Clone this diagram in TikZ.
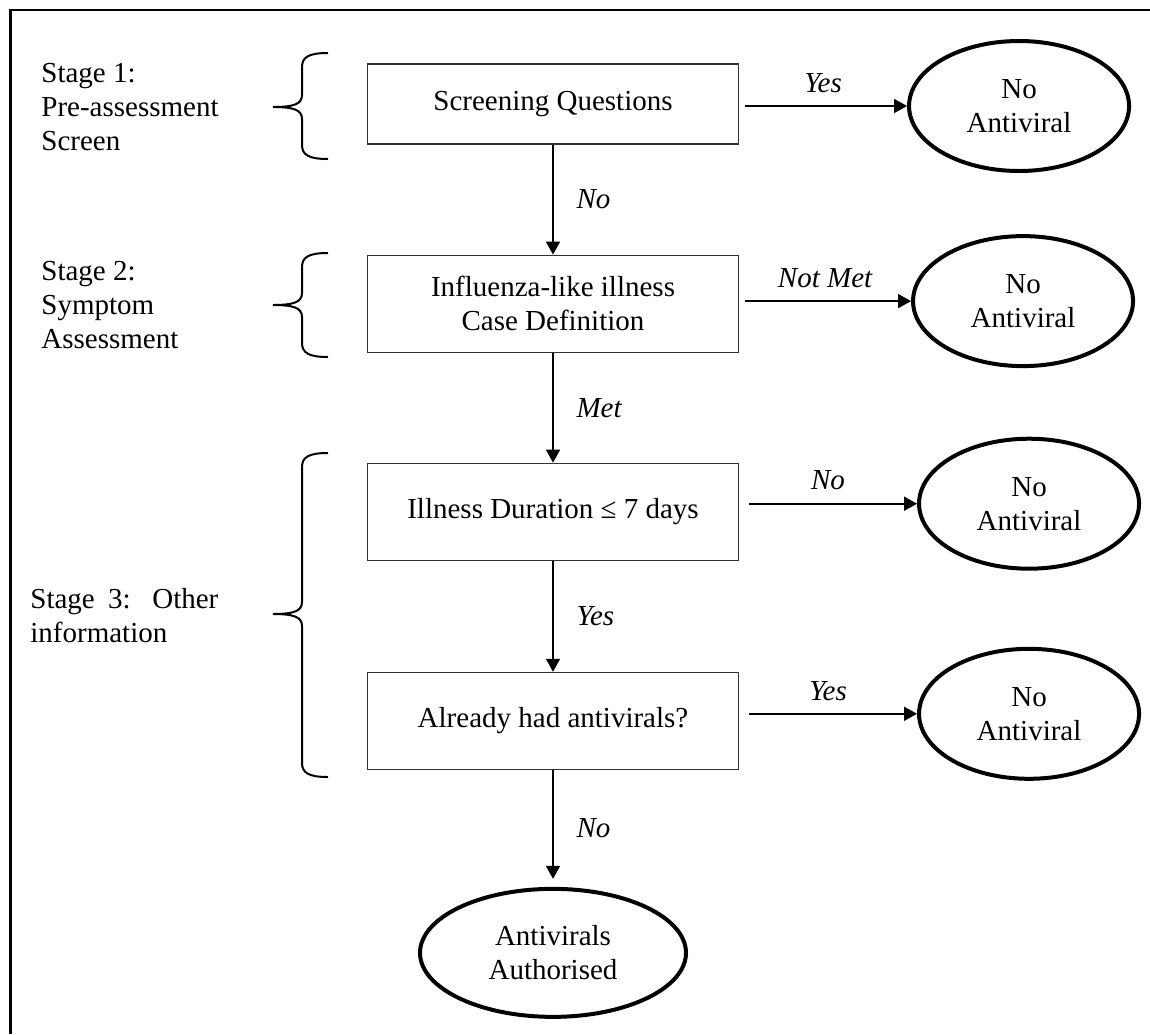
\documentclass[tikz,border=0pt]{standalone}
\usepackage{fontspec}
\setmainfont{Liberation Serif}
\usetikzlibrary{arrows.meta,positioning,shapes.geometric}

\begin{document}
\begin{tikzpicture}[x=0.5pt,y=-0.5pt,>={Triangle[length=6.5pt,width=7pt]},
 font=\fontsize{14.5}{17}\selectfont,
 qbox/.style={draw=black!80,line width=0.55pt,minimum width=185.5pt,minimum height=48.5pt,align=center},
 endpt/.style={draw,ellipse,line width=2pt,minimum width=110pt,minimum height=65pt,inner sep=1pt,align=center},
 flow/.style={->,line width=0.85pt},
 lab/.style={font=\fontsize{14.5}{17}\selectfont\itshape},
 stage/.style={anchor=west,inner sep=0pt,align=left},
 brace/.style={line width=1pt}]
\useasboundingbox (0,0) rectangle (1150,1034);
\draw[line width=1.3pt] (1150,10) -- (10.5,10) -- (10.5,1034);
\node[qbox,minimum height=40pt] (screen) at (553,104) {Screening Questions};
\node[qbox,below=55pt of screen] (ili) {Influenza-like illness\\Case Definition};
\node[qbox,below=55pt of ili] (dur) {Illness Duration ≤ 7 days};
\node[qbox,below=55.5pt of dur] (prior) {Already had antivirals?};
\node[endpt,below=58.5pt of prior,minimum width=133pt,minimum height=64pt] (auth) {Antivirals\\Authorised};
\node[endpt,right=84pt of screen,yshift=-1pt] (no1) {No\\Antiviral};
\node[endpt,right=86pt of ili,yshift=1.25pt] (no2) {No\\Antiviral};
\node[endpt,right=89pt of dur,yshift=4pt] (no3) {No\\Antiviral};
\node[endpt,right=89pt of prior,yshift=3.5pt] (no4) {No\\Antiviral};
\draw[flow] (screen) -- node[right=8pt,lab] {No} (ili);
\draw[flow] (ili) -- node[right=8pt,lab] {Met} (dur);
\draw[flow] (dur) -- node[right=8pt,lab] {Yes} (prior);
\draw[flow,shorten >=4pt] (prior) -- node[right=8pt,lab] {No} (auth);
\draw[flow,shorten <=3pt] (screen.east |- no1) -- node[above=3pt,lab] {Yes} (no1);
\draw[flow,shorten <=3pt] (ili.east |- no2) -- node[above=3pt,lab] {Not Met} (no2);
\draw[flow,shorten <=5pt] (dur.east |- no3) -- node[above=3pt,lab] {No} (no3);
\draw[flow,shorten <=5pt] (prior.east |- no4) -- node[above=3pt,lab] {Yes} (no4);
\node[stage] (st1) at (41,107) {Stage 1:\\Pre-assessment\\Screen};
\node[stage] (st2) at (41,305) {Stage 2:\\Symptom\\Assessment};
\node[stage,text width=94pt,align=justify] (st3) at (30,616) {Stage 3: Other information};
\foreach \t/\m/\b in {53/107/159,253/305/357,453/614/777}
 \draw[brace] (328,\t) .. controls (309,\t) and (302,\t+4) .. (302,\t+14)
  -- (302,\m-12) .. controls (302,\m-3) and (294,\m) .. (273,\m)
  .. controls (294,\m) and (302,\m+3) .. (302,\m+12)
  -- (302,\b-14) .. controls (302,\b-4) and (309,\b) .. (328,\b);
\end{tikzpicture}
\end{document}
